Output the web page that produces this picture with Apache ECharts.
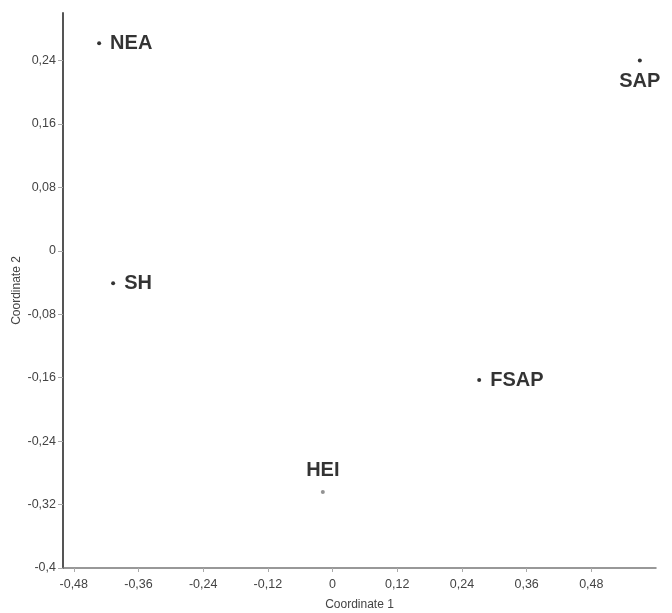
<!DOCTYPE html>
<html>
<head>
<meta charset="utf-8">
<script src="https://cdn.jsdelivr.net/npm/echarts@6/dist/echarts.min.js"></script>
<style>
html,body{margin:0;padding:0;background:#fff;}
#chart{width:672px;height:613px;}
</style>
</head>
<body>
<div id="chart"></div>
<script>
const names = ['NEA', 'SAP', 'SH', 'FSAP', 'HEI'];
const coord1 = [-0.433, 0.570, -0.407, 0.272, -0.018];
const coord2 = [0.262, 0.240, -0.041, -0.163, -0.304];
const xTicks = [-0.48, -0.36, -0.24, -0.12, 0, 0.12, 0.24, 0.36, 0.48];
const yTicks = [-0.4, -0.32, -0.24, -0.16, -0.08, 0, 0.08, 0.16, 0.24];

const labelPos = { NEA: 'right', SAP: 'bottom', SH: 'right', FSAP: 'right', HEI: 'top' };
const dotColor = { HEI: '#777' };

const fmt = v => (Math.round(v * 100) / 100).toString().replace('.', ',');

const chart = echarts.init(document.getElementById('chart'), null, { renderer: 'canvas' });
const font = 'Liberation Sans, Arial, sans-serif';
const axisLabelStyle = { color: '#444', fontFamily: font, fontSize: 12.5 };
chart.setOption({
  backgroundColor: '#fff',
  animation: false,
  grid: { left: 63, top: 13, right: 16, bottom: 45, containLabel: false, outerBoundsMode: 'none' },
  xAxis: {
    type: 'value', min: -0.5, max: 0.6,
    name: 'Coordinate 1', nameLocation: 'middle', nameGap: 31,
    nameTextStyle: { color: '#444', fontSize: 12, fontFamily: font },
    axisLine: { show: true, onZero: false, lineStyle: { color: '#777', width: 1.5 } },
    axisTick: { show: true, customValues: xTicks, length: 4, lineStyle: { color: '#aaa' } },
    axisLabel: Object.assign({ customValues: xTicks, formatter: fmt, margin: 10 }, axisLabelStyle),
    splitLine: { show: false }
  },
  yAxis: {
    type: 'value', min: -0.4, max: 0.3,
    name: 'Coordinate 2', nameLocation: 'middle', nameGap: 40, nameMoveOverlap: false,
    nameTextStyle: { color: '#444', fontSize: 12, fontFamily: font },
    axisLine: { show: true, onZero: false, lineStyle: { color: '#555', width: 2 } },
    axisTick: { show: true, customValues: yTicks, length: 5, lineStyle: { color: '#aaa' } },
    axisLabel: Object.assign({ customValues: yTicks, formatter: fmt, margin: 7 }, axisLabelStyle),
    splitLine: { show: false }
  },
  series: [{
    type: 'scatter',
    symbolSize: 4,
    data: names.map((n, i) => ({
      name: n,
      value: [coord1[i], coord2[i]],
      itemStyle: { color: dotColor[n] || '#000' },
      label: { position: labelPos[n] }
    })),
    label: {
      show: true,
      formatter: p => p.name,
      color: '#000',
      fontWeight: 'bold',
      fontSize: 20,
      fontFamily: font,
      distance: 9
    }
  }]
});
</script>
</body>
</html>
